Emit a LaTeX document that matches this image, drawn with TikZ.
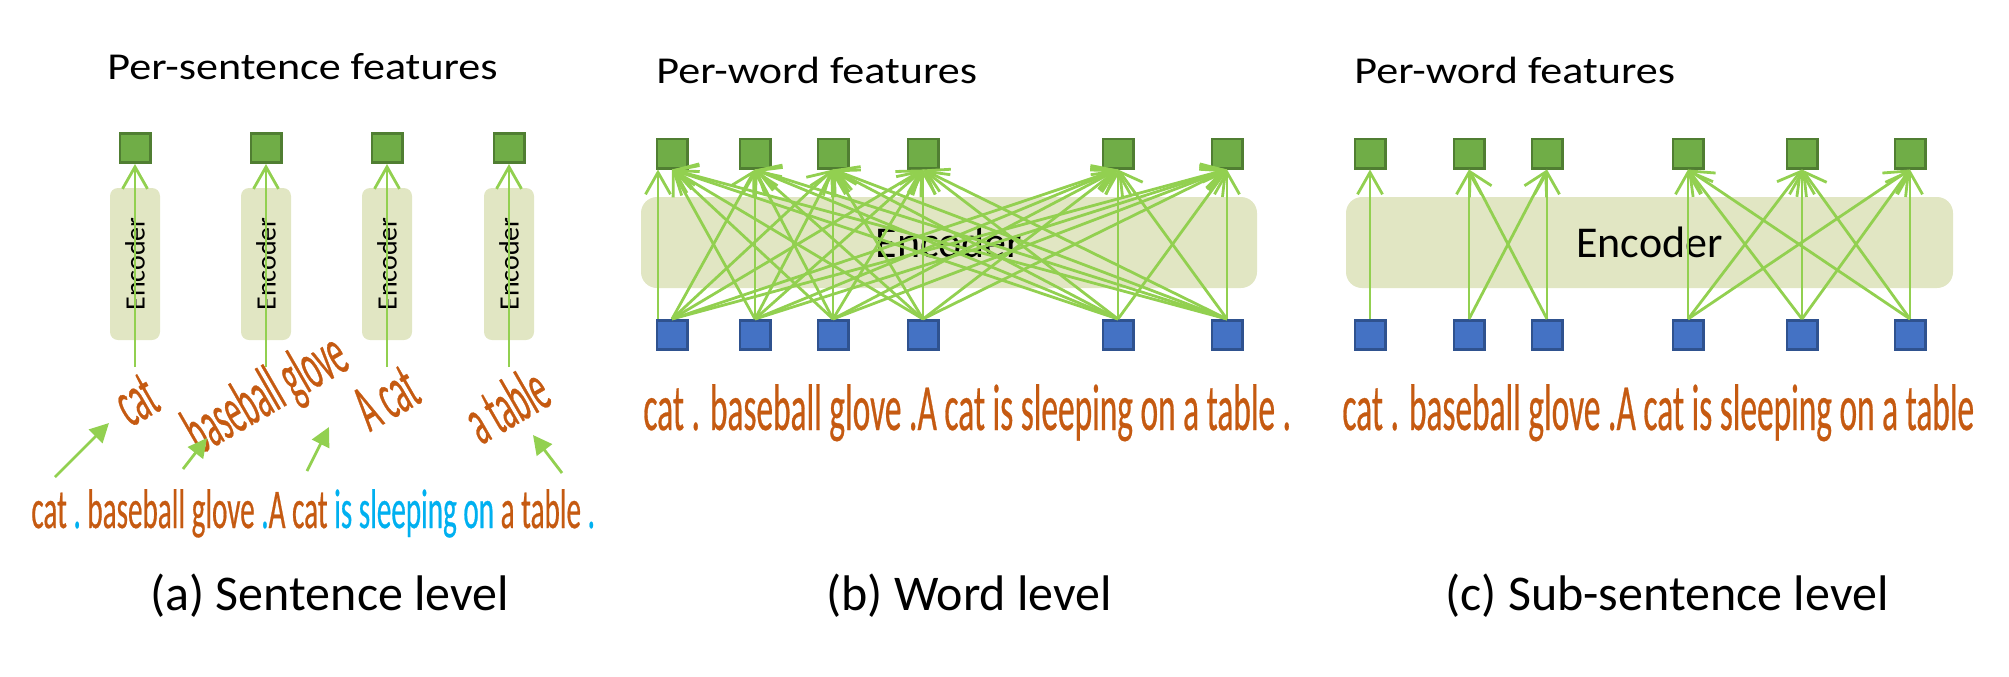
\documentclass[tikz,border=0pt]{standalone}
\usepackage{fontspec}
\setmainfont{Carlito}
\newfontfamily\titlef[FakeStretch=1.16]{Carlito}
\newfontfamily\condA[FakeStretch=0.52,FakeBold=0.4]{Carlito}
\newfontfamily\condB[FakeStretch=0.505,FakeBold=0.4]{Carlito}
\newfontfamily\condR[FakeStretch=0.45,FakeBold=0.4]{Carlito}
\usetikzlibrary{arrows.meta}
\definecolor{lgreen}{HTML}{92D050}
\definecolor{sqgreen}{HTML}{70AD47}
\definecolor{sqgreenD}{HTML}{507E32}
\definecolor{sqblue}{HTML}{4472C4}
\definecolor{sqblueD}{HTML}{2F528F}
\definecolor{encfill}{HTML}{E1E6C3}
\definecolor{orng}{HTML}{C55A11}
\definecolor{skyb}{HTML}{00B0F0}
\begin{document}
\begin{tikzpicture}[x=0.5pt,y=-0.5pt,
  sq/.style={rectangle, minimum width=15.2pt, minimum height=14.7pt, line width=1.3pt, inner sep=0pt},
  gsq/.style={sq, fill=sqgreen, draw=sqgreenD},
  bsq/.style={sq, fill=sqblue, draw=sqblueD},
  encA/.style={rectangle, rounded corners=4pt, fill=encfill, minimum width=76pt, minimum height=25pt, inner sep=0pt, rotate=90, font=\fontsize{14pt}{16pt}\selectfont},
  encW/.style={rectangle, rounded corners=8pt, fill=encfill, inner sep=0pt, minimum height=45.5pt, font=\fontsize{22pt}{26pt}\selectfont},
  arr/.style={draw=lgreen, line width=1.4pt, -{Straight Barb[length=11pt,width=12.5pt]}},
  farr/.style={draw=lgreen, line width=1.4pt, -{Triangle[length=9.5pt,width=9.5pt]}},
  ttl/.style={anchor=base west, inner sep=0pt, font=\titlef\fontsize{19pt}{22pt}\selectfont},
  capt/.style={anchor=base west, inner sep=0pt, font=\fontsize{25pt}{30pt}\selectfont},
  sentA/.style={anchor=base west, inner sep=0pt, font=\condA\fontsize{28pt}{30pt}\selectfont},
  sentB/.style={anchor=base west, inner sep=0pt, text=orng, font=\condB\fontsize{33pt}{36pt}\selectfont},
  rlab/.style={inner sep=0pt, rotate=30, text=orng, font=\condR\fontsize{34pt}{36pt}\selectfont}
]
\useasboundingbox (0,0) rectangle (2009,676);

% ---------- titles and captions ----------
\node[ttl] (t1) at (107,79) {Per-sentence features};
\node[ttl] (t2) at (656,83) {Per-word features};
\node[ttl] (t3) at (1354,83) {Per-word features};
\node[capt] (c1) at (150,610) {(a) Sentence level};
\node[capt] (c2) at (826,610) {(b) Word level};
\node[capt] (c3) at (1445,610) {(c) Sub-sentence level};

% ---------- panel (a) ----------
\foreach \i/\x in {1/135,2/266,3/387,4/509}{
  \node[encA] (ea\i) at (\x,264) {Encoder};
  \node[gsq] (ga\i) at (\x,148) {};
  \coordinate (sa\i) at (\x,367);
  \draw[arr] (sa\i) -- (ga\i.south);
}
\node[rlab] (la1) at (136,400) {cat};
\node[rlab] (la2) at (267,396) {baseball glove};
\node[rlab] (la3) at (386,398) {A cat};
\node[rlab] (la4) at (506,404) {a table};

\coordinate (fa1) at (55,477);  \coordinate (ha1) at (109,423);
\coordinate (fa2) at (183,469); \coordinate (ha2) at (207,438);
\coordinate (fa3) at (307,471); \coordinate (ha3) at (329,427);
\coordinate (fa4) at (562,473); \coordinate (ha4) at (533,435);
\foreach \i in {1,...,4}{ \draw[farr] (fa\i) -- (ha\i); }

\node[sentA] (sa) at (31,528) {{\color{orng}cat}{\color{skyb}\ .\ }{\color{orng}baseball glove}{\color{skyb}\ .}{\color{orng}A cat\ }{\color{skyb}is sleeping on\ }{\color{orng}a table}{\color{skyb}\ .}};

% ---------- panel (b) ----------
\node[encW, minimum width=308pt] (eb) at (949,242.5) {Encoder};
\foreach \i/\x in {1/672,2/755,3/833,4/923,5/1118,6/1227}{
  \node[gsq] (gb\i) at (\x,153.5) {};
  \node[bsq] (bb\i) at (\x,335) {};
}
\draw[arr] ([xshift=-7pt]bb1.north) -- ([xshift=-7pt]gb1.south);
\foreach \i in {1,...,6}{
  \foreach \j in {1,...,6}{
    \ifnum\i=\j \ifnum\i=1 \else \draw[arr] (bb\i.north) -- (gb\j.south); \fi
    \else \draw[arr] (bb\i.north) -- (gb\j.south); \fi
  }
}
\node[sentB] (sb) at (643,430) {cat . baseball glove .A cat is sleeping on a table .};

% ---------- panel (c) ----------
\node[encW, minimum width=303.5pt] (ec) at (1649.5,242.5) {Encoder};
\foreach \i/\x in {1/1370,2/1469,3/1547,4/1688,5/1802,6/1910}{
  \node[gsq] (gc\i) at (\x,153.5) {};
  \node[bsq] (bc\i) at (\x,335) {};
}
\draw[arr] (bc1.north) -- (gc1.south);
\foreach \i in {2,3}{ \foreach \j in {2,3}{ \draw[arr] (bc\i.north) -- (gc\j.south); } }
\foreach \i in {4,5,6}{ \foreach \j in {4,5,6}{ \draw[arr] (bc\i.north) -- (gc\j.south); } }
\node[sentB] (sc) at (1342,430) {cat . baseball glove .A cat is sleeping on a table};
\end{tikzpicture}
\end{document}
